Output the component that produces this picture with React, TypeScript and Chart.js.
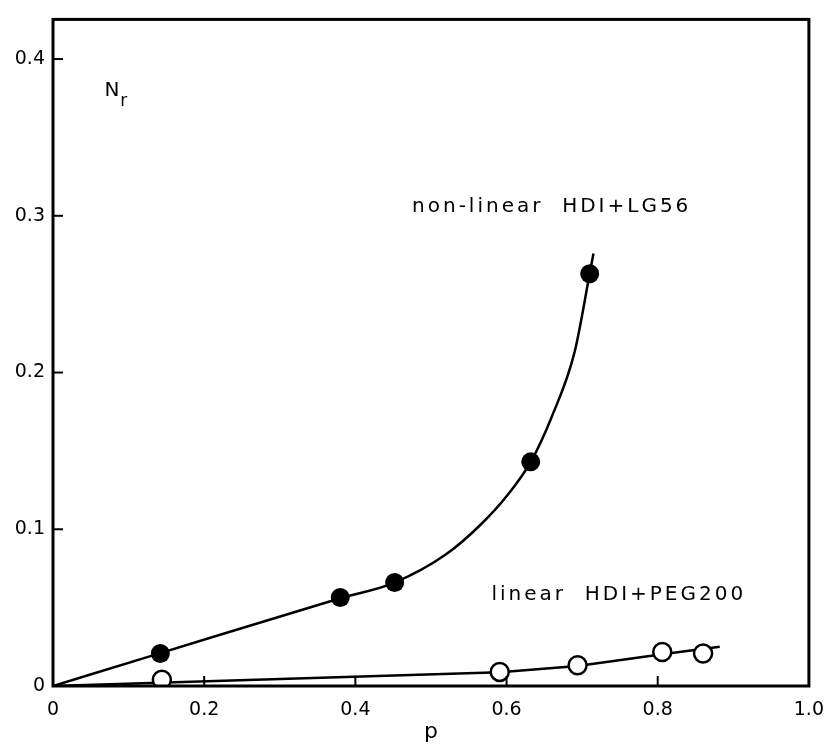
import React, { useEffect, useRef } from "react";
import { Chart, registerables } from "chart.js";

Chart.register(...registerables);

// Non-linear HDI + LG56 (filled circles)
const nonLinearP = [0.142, 0.38, 0.452, 0.632, 0.71];
const nonLinearNr = [0.0207, 0.0565, 0.066, 0.143, 0.263];
// Drawn curve through the filled points
const nonLinearCurveP = [0, 0.142, 0.38, 0.452, 0.52, 0.568, 0.6, 0.632, 0.66, 0.69, 0.71, 0.715];
const nonLinearCurveNr = [0, 0.021, 0.056, 0.066, 0.084, 0.104, 0.121, 0.143, 0.172, 0.213, 0.263, 0.276];

// Linear HDI + PEG200 (open circles)
const linearP = [0.144, 0.591, 0.694, 0.806, 0.86];
const linearNr = [0.004, 0.009, 0.0133, 0.0217, 0.0207];
// Drawn line through the open points
const linearLineP = [0, 0.591, 0.694, 0.806, 0.882];
const linearLineNr = [0, 0.0088, 0.0128, 0.0202, 0.025];

const xTicks = [0, 0.2, 0.4, 0.6, 0.8, 1.0];
const xTickLabels = ["0", "0.2", "0.4", "0.6", "0.8", "1.0"];
const yTicks = [0, 0.1, 0.2, 0.3, 0.4];
const yTickLabels = ["0", "0.1", "0.2", "0.3", "0.4"];

const FONT = "'DejaVu Sans', sans-serif";

const toXY = (xs: number[], ys: number[]) => xs.map((x, i) => ({ x, y: ys[i] }));

const framePlugin = {
  id: "frameAndNotes",
  afterDatasetsDraw(chart: any) {
    const { ctx, chartArea, scales } = chart;
    const xs = scales.x;
    const ys = scales.y;
    ctx.save();
    // frame
    ctx.strokeStyle = "#000";
    ctx.lineWidth = 3;
    ctx.strokeRect(chartArea.left, chartArea.top, chartArea.right - chartArea.left, chartArea.bottom - chartArea.top);
    // inward ticks
    ctx.lineWidth = 2;
    xTicks.slice(1, -1).forEach((v) => {
      const px = xs.getPixelForValue(v);
      ctx.beginPath();
      ctx.moveTo(px, chartArea.bottom);
      ctx.lineTo(px, chartArea.bottom - 10);
      ctx.stroke();
    });
    yTicks.slice(1).forEach((v) => {
      const py = ys.getPixelForValue(v);
      ctx.beginPath();
      ctx.moveTo(chartArea.left, py);
      ctx.lineTo(chartArea.left + 10, py);
      ctx.stroke();
    });
    // texts
    ctx.fillStyle = "#000";
    ctx.textBaseline = "middle";
    ctx.textAlign = "left";
    ctx.font = `20px ${FONT}`;
    (ctx as any).letterSpacing = "3px";
    ctx.fillText("non-linear  HDI+LG56", xs.getPixelForValue(0.475), ys.getPixelForValue(0.306));
    ctx.fillText("linear  HDI+PEG200", xs.getPixelForValue(0.58), ys.getPixelForValue(0.0585));
    (ctx as any).letterSpacing = "0px";
    ctx.font = `20px ${FONT}`;
    const nx = xs.getPixelForValue(0.068);
    const ny = ys.getPixelForValue(0.38);
    ctx.fillText("N", nx, ny);
    const nw = ctx.measureText("N").width;
    ctx.font = `17px ${FONT}`;
    ctx.fillText("r", nx + nw + 1, ny + 11);
    // x-axis title
    ctx.textAlign = "center";
    ctx.font = `22px ${FONT}`;
    ctx.fillText("p", (chartArea.left + chartArea.right) / 2, chartArea.bottom + 46);
    ctx.restore();
  },
};

export default function App() {
  const ref = useRef<HTMLCanvasElement | null>(null);
  useEffect(() => {
    if (!ref.current) return;
    const chart = new Chart(ref.current, {
      type: "scatter",
      data: {
        datasets: [
          {
            label: "non-linear HDI+LG56",
            data: toXY(nonLinearP, nonLinearNr),
            showLine: false,
            pointRadius: 9.5,
            pointBackgroundColor: "#000",
            pointBorderColor: "#000",
            pointBorderWidth: 0,
          },
          {
            label: "linear HDI+PEG200",
            data: toXY(linearP, linearNr),
            showLine: false,
            pointRadius: 9,
            pointBackgroundColor: "#fff",
            pointBorderColor: "#000",
            pointBorderWidth: 2.5,
          },
          {
            label: "curve",
            data: toXY(nonLinearCurveP, nonLinearCurveNr),
            showLine: true,
            pointRadius: 0,
            borderColor: "#000",
            borderWidth: 2.5,
            cubicInterpolationMode: "monotone",
          },
          {
            label: "line",
            data: toXY(linearLineP, linearLineNr),
            showLine: true,
            pointRadius: 0,
            borderColor: "#000",
            borderWidth: 2.5,
          },
        ],
      },
      options: {
        animation: false,
        responsive: false,
        layout: { padding: { top: 14, right: 14, left: 0, bottom: 0 } },
        plugins: { legend: { display: false }, tooltip: { enabled: false } },
        scales: {
          x: {
            type: "linear",
            min: 0,
            max: 1,
            afterBuildTicks: (s: any) => {
              s.ticks = xTicks.map((v) => ({ value: v }));
            },
            afterFit: (s: any) => {
              s.height = 59;
            },
            grid: { display: false, drawTicks: false },
            border: { display: false },
            ticks: {
              color: "#000",
              font: { family: FONT, size: 19 },
              padding: 13,
              callback: (v: any) => xTickLabels[xTicks.findIndex((t) => Math.abs(t - v) < 1e-6)] ?? "",
            },
          },
          y: {
            type: "linear",
            min: 0,
            max: 0.4253,
            afterBuildTicks: (s: any) => {
              s.ticks = yTicks.map((v) => ({ value: v }));
            },
            afterFit: (s: any) => {
              s.width = 53;
            },
            grid: { display: false, drawTicks: false },
            border: { display: false },
            ticks: {
              color: "#000",
              font: { family: FONT, size: 19 },
              padding: 8,
              callback: (v: any) => yTickLabels[yTicks.findIndex((t) => Math.abs(t - v) < 1e-6)] ?? "",
            },
          },
        },
      },
      plugins: [framePlugin],
    });
    return () => chart.destroy();
  }, []);
  return (
    <div style={{ position: "fixed", left: 0, top: 0, width: 837, height: 745, background: "#fff" }}>
      <canvas ref={ref} width={837} height={745} />
    </div>
  );
}
